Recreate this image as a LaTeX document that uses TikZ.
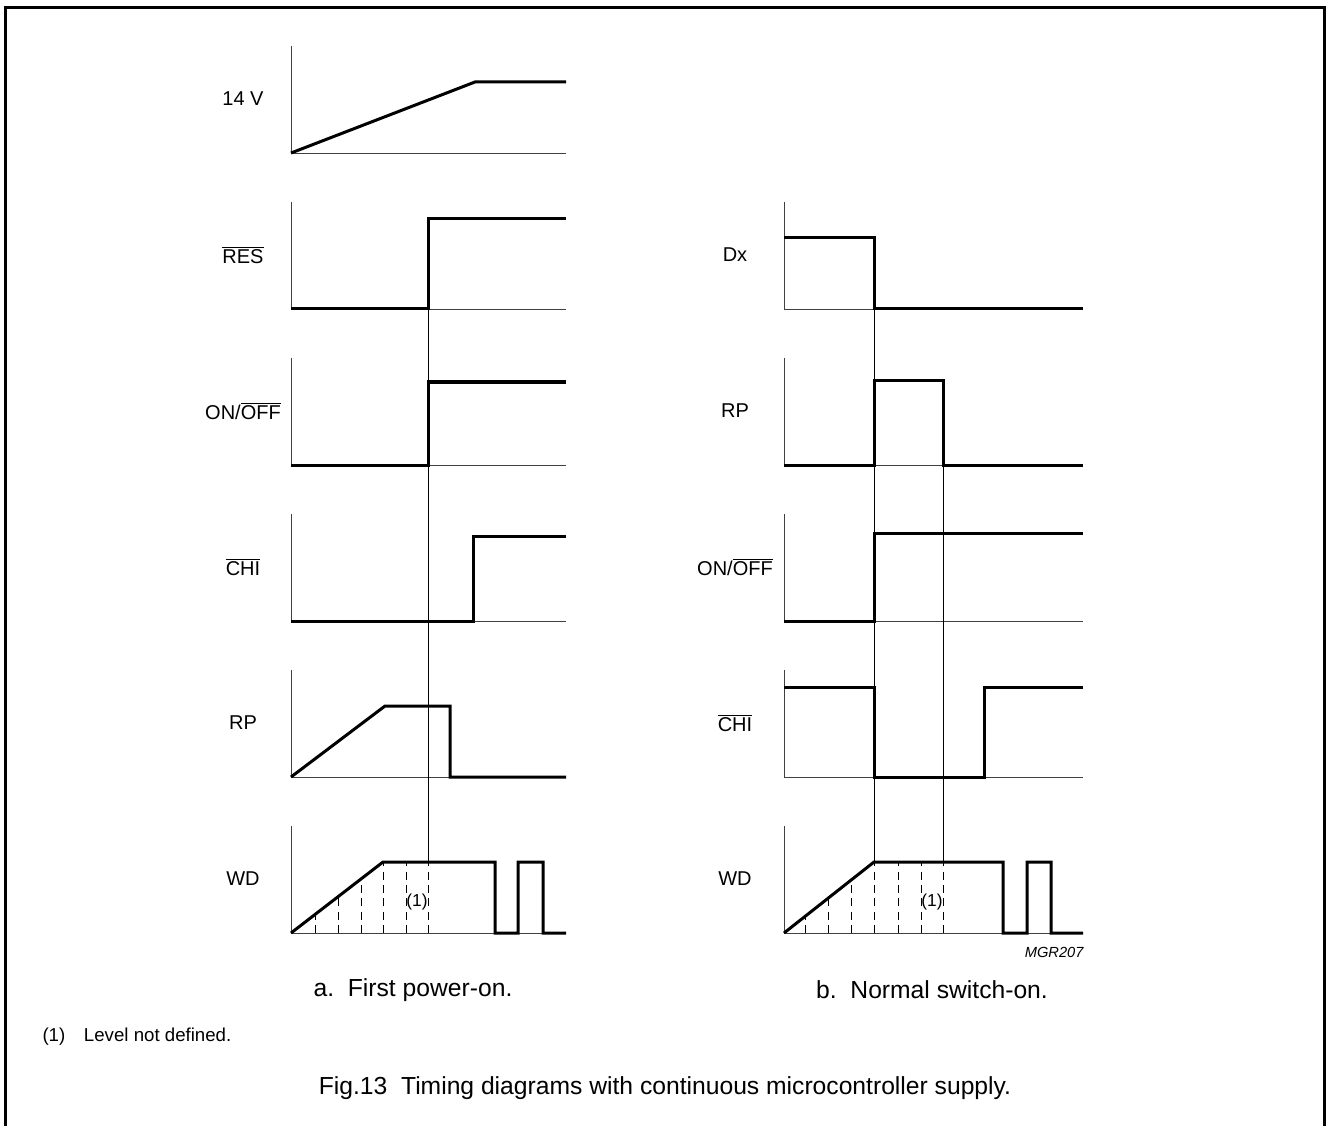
\documentclass[tikz,border=0pt]{standalone}
\usepackage{fontspec}
\setmainfont{Liberation Sans}
\tikzset{every picture/.style={line width=0.75pt}}
\begin{document}
\begin{tikzpicture}[x=0.75pt,y=0.75pt,yscale=-1,xscale=1,
	axis/.style={line width=0.6pt,draw=black!75},
	sig/.style={line width=2.25pt,line join=miter},
	guide/.style={line width=0.75pt},
	undef/.style={line width=0.75pt,dash pattern=on 6pt off 4pt},
	lbl/.style={font=\fontsize{15}{18}\selectfont},
	note/.style={font=\fontsize{13}{15}\selectfont},
	captext/.style={font=\fontsize{18.5}{22}\selectfont}]
	\useasboundingbox (0,0) rectangle (1326,1126);
	
	%Frame
	\draw [line width=2.25]  (5,1130) -- (5,8) -- (1324,8) -- (1324,1130) ;
	
	%Axes: left column
	\draw [axis]  (291,46) -- (291,153) -- (566,153) ;
	\draw [axis]  (291,202) -- (291,309) -- (566,309) ;
	\draw [axis]  (291,358) -- (291,465) -- (566,465) ;
	\draw [axis]  (291,514) -- (291,621) -- (566,621) ;
	\draw [axis]  (291,670) -- (291,777) -- (566,777) ;
	\draw [axis]  (291,826) -- (291,933) -- (566,933) ;
	%Axes: right column
	\draw [axis]  (784,202) -- (784,309) -- (1083,309) ;
	\draw [axis]  (784,358) -- (784,465) -- (1083,465) ;
	\draw [axis]  (784,514) -- (784,621) -- (1083,621) ;
	\draw [axis]  (784,670) -- (784,777) -- (1083,777) ;
	\draw [axis]  (784,826) -- (784,933) -- (1083,933) ;
	
	%Guide lines
	\draw [guide]  (428,309) -- (428,862) ;
	\draw [guide]  (874,309) -- (874,862) ;
	\draw [guide]  (943,465) -- (943,862) ;
	
	%Undefined level: left WD
	\draw [undef]  (315,933) -- (315,915) ;
	\draw [undef]  (338,933) -- (338,897) ;
	\draw [undef]  (361,933) -- (361,879) ;
	\draw [undef]  (383,933) -- (383,862) ;
	\draw [undef]  (406,933) -- (406,862) ;
	\draw [undef]  (428,933) -- (428,862) ;
	%Undefined level: right WD
	\draw [undef]  (805,933) -- (805,916) ;
	\draw [undef]  (828,933) -- (828,898) ;
	\draw [undef]  (851,933) -- (851,880) ;
	\draw [undef]  (874,933) -- (874,862) ;
	\draw [undef]  (898,933) -- (898,862) ;
	\draw [undef]  (921,933) -- (921,862) ;
	\draw [undef]  (943,933) -- (943,862) ;
	
	%Signals: left column
	\draw [sig]  (291,153) -- (475,82) -- (566,82) ;
	\draw [sig]  (291,309) -- (428,309) -- (428,219) -- (566,219) ;
	\draw [sig]  (291,465) -- (428,465) -- (428,382) -- (566,382) ;
	\draw [sig]  (291,621) -- (473,621) -- (473,536) -- (566,536) ;
	\draw [sig]  (291,777) -- (385,706) -- (450,706) -- (450,777) -- (566,777) ;
	\draw [sig]  (291,933) -- (383,862) -- (495,862) -- (495,933) -- (518,933) -- (518,862) -- (543,862) -- (543,933) -- (566,933) ;
	%Signals: right column
	\draw [sig]  (784,238) -- (874,238) -- (874,309) -- (1083,309) ;
	\draw [sig]  (784,465) -- (874,465) -- (874,381) -- (943,381) -- (943,465) -- (1083,465) ;
	\draw [sig]  (784,621) -- (874,621) -- (874,533) -- (1083,533) ;
	\draw [sig]  (784,687) -- (874,687) -- (874,777) -- (984,777) -- (984,687) -- (1083,687) ;
	\draw [sig]  (784,933) -- (874,862) -- (1003,862) -- (1003,933) -- (1027,933) -- (1027,862) -- (1051,862) -- (1051,933) -- (1083,933) ;
	
	%Signal names: left column
	\node [lbl] (vbat) at (243,99) {14 V};
	\node [lbl] (resA) at (243,255) {$\overline{\mbox{RES}}$};
	\node [lbl] (onA) at (243,411) {ON/$\overline{\mbox{OFF}}$};
	\node [lbl] (chiA) at (243,567) {$\overline{\mbox{CHI}}$};
	\node [lbl] (rpA) at (243,723) {RP};
	\node [lbl] (wdA) at (243,879) {WD};
	%Signal names: right column
	\node [lbl] (dxB) at (735,255) {Dx};
	\node [lbl] (rpB) at (735,411) {RP};
	\node [lbl] (onB) at (735,567) {ON/$\overline{\mbox{OFF}}$};
	\node [lbl] (chiB) at (735,723) {$\overline{\mbox{CHI}}$};
	\node [lbl] (wdB) at (735,879) {WD};
	
	%Notes
	\node [note] (undefA) at (417,902) {(1)};
	\node [note] (undefB) at (932,902) {(1)};
	\node [font=\fontsize{11}{13}\selectfont\itshape,anchor=east,inner xsep=0pt] (code) at (1084,952) {MGR207};
	
	%Captions
	\node [captext] (capA) at (413,990) {a.\ \ First power-on.};
	\node [captext] (capB) at (932,990) {b.\ \ Normal switch-on.};
	\node [font=\fontsize{14}{16}\selectfont,anchor=west,inner xsep=0pt] (foot) at (42,1037) {(1)\hspace{14pt}Level not defined.};
	\node [captext] (fig) at (665,1088) {Fig.13\ \ Timing diagrams with continuous microcontroller supply.};
	
\end{tikzpicture}
\end{document}
